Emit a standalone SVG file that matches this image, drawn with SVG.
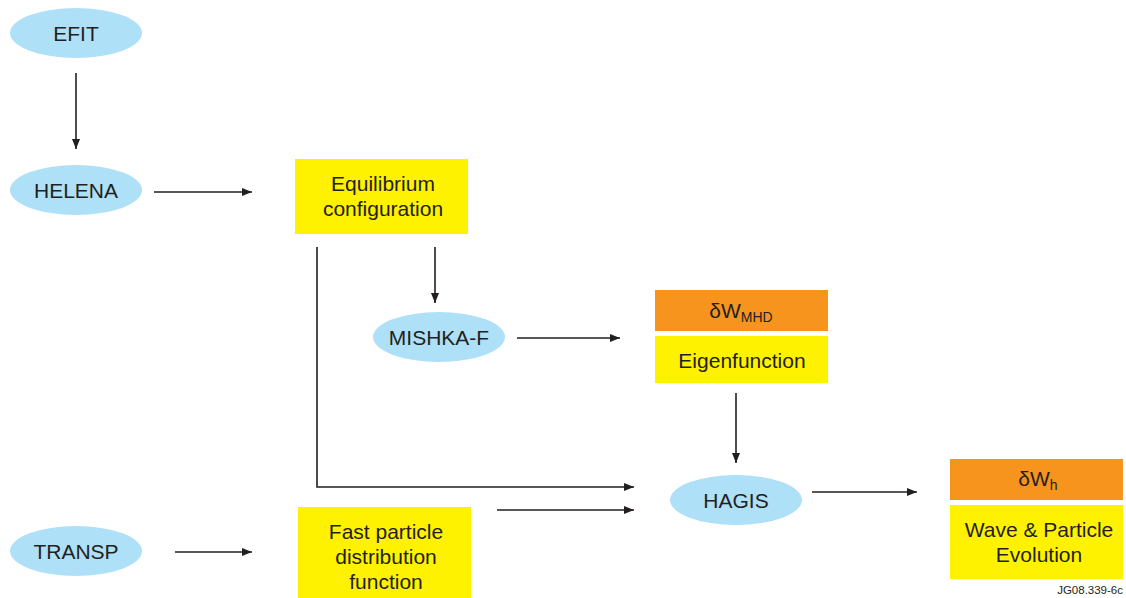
<svg xmlns="http://www.w3.org/2000/svg" width="1126" height="598" viewBox="0 0 1126 598">
<defs>
<marker id="ah" viewBox="0 0 10 8" refX="10" refY="4" markerWidth="10" markerHeight="8" markerUnits="userSpaceOnUse" orient="auto">
<path d="M0,0 L10,4 L0,8 Z" fill="#231f20"/>
</marker>
<style>
.ell{fill:#aee0f8}
.yel{fill:#fff200}
.org{fill:#f7941e}
text{font-family:"Liberation Sans",Arial,sans-serif;font-size:21px;fill:#231f20;text-anchor:middle}
.sub{font-size:14px}
.c{fill:none;stroke:#231f20;stroke-width:1.6;marker-end:url(#ah)}
</style>
</defs>
<rect width="1126" height="598" fill="#fff"/>
<g id="connectors">
<path class="c" d="M76,73 V149"/>
<path class="c" d="M154,192 H252"/>
<path class="c" d="M435,247 V303"/>
<path class="c" d="M317,247 V487 H634"/>
<path class="c" d="M517,338 H620"/>
<path class="c" d="M736,393 V463"/>
<path class="c" d="M497,510 H634"/>
<path class="c" d="M175,552 H252"/>
<path class="c" d="M812,492 H917"/>
</g>
<g id="efit"><ellipse class="ell" cx="76" cy="33" rx="66" ry="25"/><text x="76" y="41">EFIT</text></g>
<g id="helena"><ellipse class="ell" cx="76" cy="190" rx="66" ry="25"/><text x="76" y="198">HELENA</text></g>
<g id="equilibrium"><rect class="yel" x="295" y="159" width="173" height="75"/><text x="383" y="191">Equilibrium</text><text x="383" y="216">configuration</text></g>
<g id="mishka"><ellipse class="ell" cx="439" cy="337" rx="66" ry="25"/><text x="439" y="345">MISHKA-F</text></g>
<g id="dwmhd"><rect class="org" x="655" y="290" width="173" height="41"/><text x="741" y="318">δW<tspan class="sub" dy="4">MHD</tspan></text></g>
<g id="eigen"><rect class="yel" x="655" y="336" width="173" height="47"/><text x="742" y="368">Eigenfunction</text></g>
<g id="hagis"><ellipse class="ell" cx="736" cy="500" rx="66" ry="25"/><text x="736" y="508">HAGIS</text></g>
<g id="fast"><rect class="yel" x="298" y="507" width="173" height="91"/><text x="386" y="539">Fast particle</text><text x="386" y="564">distribution</text><text x="386" y="589">function</text></g>
<g id="transp"><ellipse class="ell" cx="76" cy="551" rx="66" ry="25"/><text x="76" y="559">TRANSP</text></g>
<g id="dwh"><rect class="org" x="950" y="459" width="173" height="41"/><text x="1038" y="486">δW<tspan class="sub" dy="4">h</tspan></text></g>
<g id="wave"><rect class="yel" x="950" y="505" width="173" height="74"/><text x="1039" y="537">Wave &amp; Particle</text><text x="1039" y="562">Evolution</text></g>
<text x="1123" y="594" style="font-size:11.5px;text-anchor:end">JG08.339-6c</text>
</svg>
